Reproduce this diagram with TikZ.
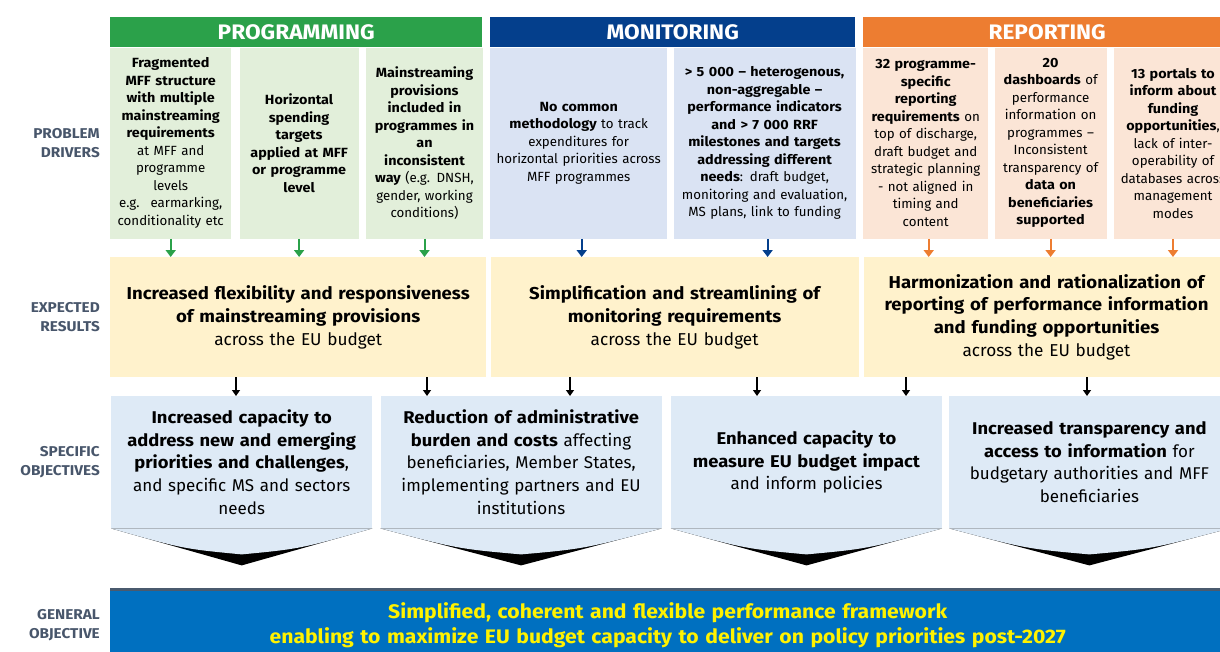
\documentclass[tikz,border=0pt]{standalone}
\usepackage{fontspec}
\setmainfont{Fira Sans}[BoldFeatures={FakeStretch=1.08}]
\usetikzlibrary{arrows.meta, positioning, calc}
\definecolor{ProgGreen}{HTML}{2BA14A}
\definecolor{ProgLight}{HTML}{E2EFDA}
\definecolor{MonBlue}{HTML}{043F8C}
\definecolor{MonLight}{HTML}{DAE3F3}
\definecolor{RepOrange}{HTML}{ED7D31}
\definecolor{RepLight}{HTML}{FBE5D6}
\definecolor{ResYellow}{HTML}{FFF2CC}
\definecolor{ObjBlue}{HTML}{DEEAF6}
\definecolor{GenBlue}{HTML}{0070C0}
\definecolor{GenLine}{HTML}{4A5A6E}
\definecolor{LabelGrey}{HTML}{48566B}
\tikzset{
  header/.style={rectangle, minimum height=30pt, inner sep=0pt, text=white, font=\fontsize{21}{24}\selectfont\bfseries},
  driver/.style={rectangle, minimum height=191pt, inner xsep=0pt, align=center, font=\fontsize{13.3}{17.5}\selectfont},
  result/.style={rectangle, fill=ResYellow, minimum height=120pt, inner xsep=0pt, align=center, font=\fontsize{17.2}{22.8}\selectfont},
  objective/.style={rectangle, fill=ObjBlue, minimum height=132pt, inner xsep=0pt, align=center, font=\fontsize{17}{22.5}\selectfont},
  general/.style={rectangle, fill=GenBlue, minimum height=68pt, inner xsep=0pt, align=center, text=yellow, font=\fontsize{19.6}{25}\selectfont\bfseries},
  rowlabel/.style={inner sep=0pt, align=right, text=LabelGrey, font=\fontsize{14.2}{18.5}\selectfont\bfseries},
  arrow/.style={->, >={Triangle[width=10pt,length=7pt]}, line width=2pt},
  thinarrow/.style={->, >={Triangle[width=8pt,length=6pt]}, line width=1.3pt, draw=black}
}

\begin{document}
\begin{tikzpicture}[x=1pt, y=-1pt]
            \useasboundingbox (0,0) rectangle (1220,651);
            % headers
            \node (prog) [header, fill=ProgGreen, minimum width=372pt, anchor=north west] at (110,17) {PROGRAMMING};
            \node (mon) [header, fill=MonBlue, minimum width=365pt, anchor=north west] at (490,17) {MONITORING};
            \node (rep) [header, fill=RepOrange, minimum width=368pt, anchor=north west] at (863,17) {REPORTING};
            % problem drivers
            \node (pd1) [driver, fill=ProgLight, text width=121pt, below=0pt of prog.south west, anchor=north west] {\textbf{Fragmented\\MFF structure\\with multiple\\mainstreaming\\requirements}\\at MFF and\\programme\\levels\\e.g.~ earmarking,\\conditionality etc};
            \node (pd2) [driver, fill=ProgLight, text width=119pt, right=8pt of pd1] {\textbf{Horizontal\\spending\\targets\\applied at MFF\\or programme\\level}};
            \node (pd3) [driver, fill=ProgLight, text width=117pt, right=7pt of pd2] {\textbf{Mainstreaming\\provisions\\included in\\programmes in\\an\\inconsistent\\way} (e.g. DNSH,\\gender, working\\conditions)};
            \node (md1) [driver, fill=MonLight, text width=177pt, below=0pt of mon.south west, anchor=north west] {\textbf{No common\\methodology} to track\\expenditures for\\horizontal priorities across\\MFF programmes};
            \node (md2) [driver, fill=MonLight, text width=182pt, right=6pt of md1] {\textbf{> 5~000 – heterogenous,\\non-aggregable –\\performance indicators\\and > 7~000 RRF\\milestones and targets\\addressing different\\needs}: draft budget,\\monitoring and evaluation,\\MS plans, link to funding};
            \node (rd1) [driver, fill=RepLight, text width=125pt, below=0pt of rep.south west, anchor=north west] {\textbf{32 programme-\\specific\\reporting\\requirements} on\\top of discharge,\\draft budget and\\strategic planning\\- not aligned in\\timing and\\content};
            \node (rd2) [driver, fill=RepLight, text width=112pt, right=6pt of rd1] {\textbf{20\\dashboards} of\\performance\\information on\\programmes –\\Inconsistent\\transparency of\\\textbf{data on\\beneficiaries\\supported}};
            \node (rd3) [driver, fill=RepLight, text width=118pt, right=7pt of rd2] {\textbf{13 portals to\\inform about\\funding\\opportunities},\\lack of inter-\\operability of\\databases across\\management\\modes};
            % expected results
            \node (er1) [result, text width=376pt, anchor=north west] at (110,257) {\textbf{Increased flexibility and responsiveness\\of mainstreaming provisions}\\across the EU budget};
            \node (er2) [result, text width=368pt, right=4pt of er1] {\textbf{Simplification and streamlining of\\monitoring requirements}\\across the EU budget};
            \node (er3) [result, text width=365pt, right=5pt of er2] {\textbf{Harmonization and rationalization of\\reporting of performance information\\and funding opportunities}\\across the EU budget};
            % specific objectives
            \node (so1) [objective, text width=261pt, anchor=north west] at (111,396) {\textbf{Increased capacity to\\address new and emerging\\priorities and challenges},\\and specific MS and sectors\\needs};
            \node (so2) [objective, text width=281pt, right=8pt of so1] {\textbf{Reduction of administrative\\burden and costs} affecting\\beneficiaries, Member States,\\implementing partners and EU\\institutions};
            \node (so3) [objective, text width=271pt, right=9pt of so2] {\textbf{Enhanced capacity to\\measure EU budget impact}\\and inform policies};
            \node (so4) [objective, text width=280pt, right=7pt of so3] {\textbf{Increased transparency and\\access to information} for\\budgetary authorities and MFF\\beneficiaries};
            % chevrons under the objectives
            \foreach \s in {so1, so2, so3, so4} {
              \fill [black] (\s.south west) -- ([yshift=-37pt]\s.south) -- (\s.south east) -- cycle;
              \fill [ObjBlue] (\s.south west) .. controls ($(\s.south west)!0.55!([yshift=-37pt]\s.south)$) .. ([yshift=-26pt]\s.south)
                .. controls ($(\s.south east)!0.55!([yshift=-37pt]\s.south)$) .. (\s.south east) -- cycle;
            }
            % general objective
            \node (go) [general, text width=1115pt, anchor=north west] at (110,591) {Simplified, coherent and flexible performance framework\\enabling to maximize EU budget capacity to deliver on policy priorities post-2027};
            \draw [GenLine, line width=3pt] ([yshift=1.5pt]go.north west) -- ([yshift=1.5pt]go.north east);
            % row labels
            \node (lpd) [rowlabel, left=10pt of pd1] {PROBLEM\\DRIVERS};
            \node (ler) [rowlabel, left=10pt of er1] {EXPECTED\\RESULTS};
            \node (lso) [rowlabel, left=11pt of so1] {SPECIFIC\\OBJECTIVES};
            \node (lgo) [rowlabel, left=10pt of go] {GENERAL\\OBJECTIVE};
            % arrows drivers -> results
            \draw [arrow, ProgGreen] (pd1.south) -- (pd1.south |- er1.north);
            \draw [arrow, ProgGreen] (pd2.south) -- (pd2.south |- er1.north);
            \draw [arrow, ProgGreen] (pd3.south) -- (pd3.south |- er1.north);
            \draw [arrow, MonBlue] ([xshift=3pt]md1.south) -- ([xshift=3pt]md1.south |- er2.north);
            \draw [arrow, MonBlue] ([xshift=3pt]md2.south) -- ([xshift=3pt]md2.south |- er2.north);
            \draw [arrow, RepOrange] ([xshift=3pt]rd1.south) -- ([xshift=3pt]rd1.south |- er3.north);
            \draw [arrow, RepOrange] (rd2.south) -- (rd2.south |- er3.north);
            \draw [arrow, RepOrange] (rd3.south) -- (rd3.south |- er3.north);
            % arrows results -> objectives
            \draw [thinarrow] (er1.south -| 236,0) -- (so1.north -| 236,0);
            \draw [thinarrow] (er1.south -| 427,0) -- (so2.north -| 427,0);
            \draw [thinarrow] (er2.south -| 570,0) -- (so2.north -| 570,0);
            \draw [thinarrow] (er2.south -| 757,0) -- (so3.north -| 757,0);
            \draw [thinarrow] (er3.south -| 906,0) -- (so3.north -| 906,0);
            \draw [thinarrow] (er3.south -| 1087,0) -- (so4.north -| 1087,0);
        \end{tikzpicture}
\end{document}
